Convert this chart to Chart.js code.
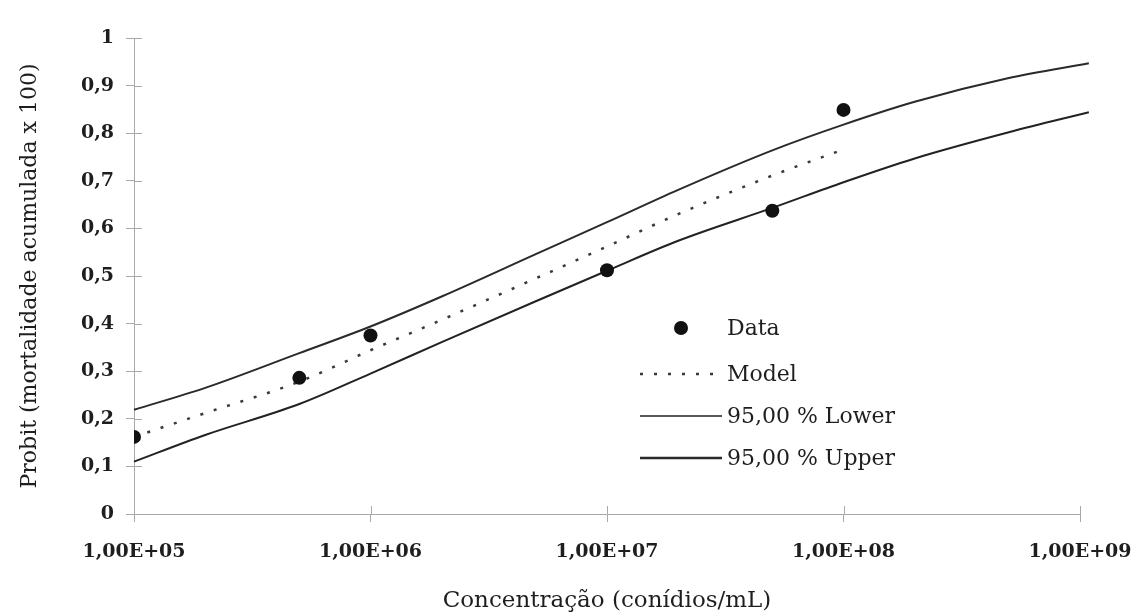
<!DOCTYPE html>
<html>
<head>
<meta charset="utf-8">
<script src="https://cdn.jsdelivr.net/npm/chart.js@4.4.1/dist/chart.umd.min.js"></script>
<style>
  html, body { margin: 0; padding: 0; background: #ffffff; }
  #wrap { width: 1136px; height: 616px; position: relative; }
</style>
</head>
<body>
<div id="wrap"><canvas id="c" width="1136" height="616"></canvas></div>
<script>
// ---- data ----
const xDecades = [1e5, 1e6, 1e7, 1e8, 1e9];
const xTickLabels = ['1,00E+05', '1,00E+06', '1,00E+07', '1,00E+08', '1,00E+09'];
const yTickValues = [0, 0.1, 0.2, 0.3, 0.4, 0.5, 0.6, 0.7, 0.8, 0.9, 1];
const yTickLabels = ['0', '0,1', '0,2', '0,3', '0,4', '0,5', '0,6', '0,7', '0,8', '0,9', '1'];

const dataX = [1e5, 5e5, 1e6, 1e7, 5e7, 1e8];
const dataY = [0.162, 0.286, 0.375, 0.512, 0.637, 0.849];

const modelX = [1e5, 2e5, 5e5, 1e6, 2e6, 5e6, 1e7, 2e7, 5e7, 1e8];
const modelY = [0.162, 0.212, 0.278, 0.344, 0.408, 0.495, 0.562, 0.630, 0.711, 0.766];

const bandX  = [1e5, 2e5, 5e5, 1e6, 2e6, 5e6, 1e7, 2e7, 5e7, 1e8, 2e8, 5e8, 1.09e9];
const lowerY = [0.110, 0.166, 0.231, 0.295, 0.361, 0.447, 0.511, 0.574, 0.643, 0.697, 0.747, 0.802, 0.844];
const upperY = [0.219, 0.265, 0.338, 0.394, 0.457, 0.546, 0.613, 0.681, 0.764, 0.818, 0.866, 0.916, 0.947];

const seriesNames = ['Data', 'Model', '95,00 % Lower', '95,00 % Upper'];
const xTitle = 'Concentração (conídios/mL)';
const yTitle = 'Probit (mortalidade acumulada x 100)';

// ---- helpers ----
const pts = (xs, ys) => xs.map((x, i) => ({ x: x, y: ys[i] }));
const AXIS_GRAY = '#a8a8a8';
const INK = '#1e1e1e';
const tickFont = { family: "'DejaVu Serif', serif", size: 19, weight: 'bold' };
const xTitleFont = { family: "'DejaVu Serif', serif", size: 23, weight: 'normal' };
const yTitleFont = { family: "'DejaVu Serif', serif", size: 22, weight: 'normal' };
const legendFont = "22px 'DejaVu Serif', serif";

// inner half of the cross ticks
const innerTicks = {
  id: 'innerTicks',
  afterDraw(chart) {
    const { ctx, chartArea, scales } = chart;
    ctx.save();
    ctx.strokeStyle = AXIS_GRAY;
    ctx.lineWidth = 1;
    xDecades.forEach(v => {
      const px = Math.round(scales.x.getPixelForValue(v)) + 0.5;
      ctx.beginPath(); ctx.moveTo(px, chartArea.bottom); ctx.lineTo(px, chartArea.bottom - 8); ctx.stroke();
    });
    yTickValues.forEach(v => {
      const py = Math.round(scales.y.getPixelForValue(v)) + 0.5;
      ctx.beginPath(); ctx.moveTo(chartArea.left, py); ctx.lineTo(chartArea.left + 8, py); ctx.stroke();
    });
    ctx.restore();
  }
};

// legend drawn inside the plot
const innerLegend = {
  id: 'innerLegend',
  afterDraw(chart) {
    const { ctx } = chart;
    const x0 = 640, x1 = 722, tx = 727;
    const rows = [328, 374, 416, 458];
    ctx.save();
    ctx.font = legendFont;
    ctx.textBaseline = 'middle';
    ctx.fillStyle = INK;
    chart.data.datasets.forEach((ds, i) => {
      const y = rows[i];
      if (ds.showLine === false) {
        ctx.beginPath();
        ctx.arc((x0 + x1) / 2, y, 7, 0, Math.PI * 2);
        ctx.fillStyle = ds.pointBackgroundColor;
        ctx.fill();
      } else {
        ctx.beginPath();
        ctx.setLineDash(ds.borderDash || []);
        ctx.strokeStyle = ds.borderColor;
        ctx.lineWidth = ds.legendLineWidth || ds.borderWidth;
        ctx.moveTo(x0, y); ctx.lineTo(x1, y); ctx.stroke();
        ctx.setLineDash([]);
      }
      ctx.fillStyle = INK;
      ctx.fillText(ds.label, tx, y + 1);
    });
    ctx.restore();
  }
};

new Chart(document.getElementById('c'), {
  type: 'line',
  data: {
    datasets: [
      {
        label: seriesNames[0],
        data: pts(dataX, dataY),
        showLine: false,
        pointRadius: 7,
        pointHoverRadius: 7,
        pointBackgroundColor: '#111111',
        pointBorderColor: '#111111',
        pointBorderWidth: 0
      },
      {
        label: seriesNames[1],
        data: pts(modelX, modelY),
        borderColor: '#3a3a3a',
        borderWidth: 2.5,
        borderDash: [3, 11],
        pointRadius: 0,
        cubicInterpolationMode: 'monotone',
        fill: false
      },
      {
        label: seriesNames[2],
        data: pts(bandX, lowerY),
        borderColor: '#222222',
        borderWidth: 2,
        legendLineWidth: 1.6,
        pointRadius: 0,
        cubicInterpolationMode: 'monotone',
        clip: false,
        fill: false
      },
      {
        label: seriesNames[3],
        data: pts(bandX, upperY),
        borderColor: '#2a2a2a',
        borderWidth: 2,
        legendLineWidth: 2.6,
        pointRadius: 0,
        cubicInterpolationMode: 'monotone',
        clip: false,
        fill: false
      }
    ]
  },
  options: {
    responsive: false,
    animation: false,
    devicePixelRatio: 1,
    layout: { padding: { top: 38, right: 56, bottom: 0, left: 0 } },
    plugins: {
      legend: { display: false },
      tooltip: { enabled: false },
      title: { display: false }
    },
    scales: {
      x: {
        type: 'logarithmic',
        min: 1e5,
        max: 1e9,
        afterFit(scale) { scale.height = 102; scale.paddingLeft = 0; scale.paddingRight = 0; },
        afterBuildTicks(scale) { scale.ticks = xDecades.map(v => ({ value: v, major: true })); },
        ticks: {
          autoSkip: false,
          maxRotation: 0,
          padding: 19,
          color: INK,
          font: tickFont,
          callback(value) {
            const i = xDecades.findIndex(d => Math.abs(Math.log10(d) - Math.log10(value)) < 1e-6);
            return i >= 0 ? xTickLabels[i] : '';
          }
        },
        grid: { drawOnChartArea: false, drawTicks: true, tickLength: 8, color: AXIS_GRAY, lineWidth: 1 },
        border: { display: true, color: AXIS_GRAY, width: 1 },
        title: { display: true, text: xTitle, color: INK, font: xTitleFont, padding: { top: 0, bottom: 1 } }
      },
      y: {
        type: 'linear',
        min: 0,
        max: 1,
        afterFit(scale) { scale.width = 134; scale.paddingTop = 0; scale.paddingBottom = 0; },
        afterBuildTicks(scale) { scale.ticks = yTickValues.map(v => ({ value: v })); },
        ticks: {
          padding: 12,
          color: INK,
          font: tickFont,
          callback(value) {
            const i = yTickValues.findIndex(v => Math.abs(v - value) < 1e-9);
            return i >= 0 ? yTickLabels[i] : '';
          }
        },
        grid: { drawOnChartArea: false, drawTicks: true, tickLength: 8, color: AXIS_GRAY, lineWidth: 1 },
        border: { display: true, color: AXIS_GRAY, width: 1 },
        title: { display: true, text: yTitle, color: INK, font: yTitleFont, padding: { top: 17, bottom: 0 } }
      }
    }
  },
  plugins: [innerTicks, innerLegend]
});
</script>
</body>
</html>
